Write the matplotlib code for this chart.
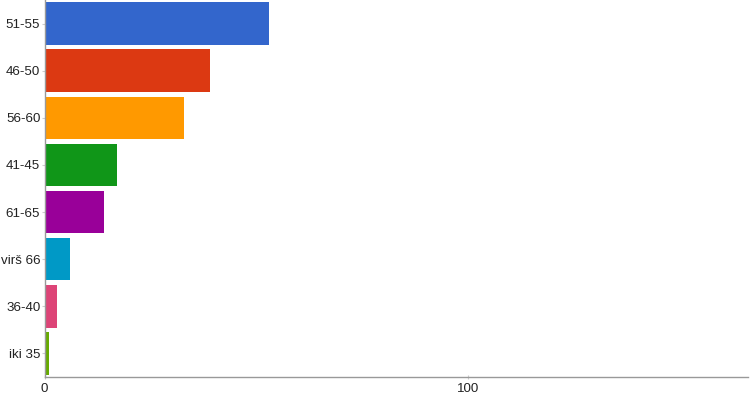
import matplotlib
matplotlib.use('Agg')
import matplotlib.pyplot as plt

# Amžiaus grupės (iš viršaus į apačią)
categories = ['51-55', '46-50', '56-60', '41-45', '61-65', 'virš 66', '36-40', 'iki 35']
values = [53, 39, 33, 17, 14, 6, 3, 1]
colors = ['#3366cc', '#dc3912', '#ff9900', '#109618', '#990099', '#0099c6', '#dd4477', '#66aa00']
x_ticks = [0, 100]
x_max = 166

plt.rcParams['font.family'] = ['Liberation Sans', 'DejaVu Sans']

fig = plt.figure(figsize=(7.5, 4), dpi=100)
ax = fig.add_axes([44.5 / 750, 23 / 400, (748 - 44.5) / 750, 377 / 400])

ypos = list(range(len(categories)))
ax.barh(ypos, values, height=0.9, color=colors)

ax.set_ylim(len(categories) - 0.5, -0.5)
ax.set_xlim(0, x_max)
ax.set_yticks(ypos)
ax.set_yticklabels(categories, fontsize=9.6, color='#222222')
ax.set_xticks(x_ticks)
ax.set_xticklabels([str(t) for t in x_ticks], fontsize=9.6, color='#222222')

for side in ['top', 'right']:
    ax.spines[side].set_visible(False)
for side in ['left', 'bottom']:
    ax.spines[side].set_color('#999999')
    ax.spines[side].set_linewidth(1)

ax.tick_params(axis='y', length=2, color='#cccccc', pad=1)
ax.tick_params(axis='x', length=3, color='#cccccc', pad=3, direction='inout')

fig.savefig('out.png', dpi=100)
